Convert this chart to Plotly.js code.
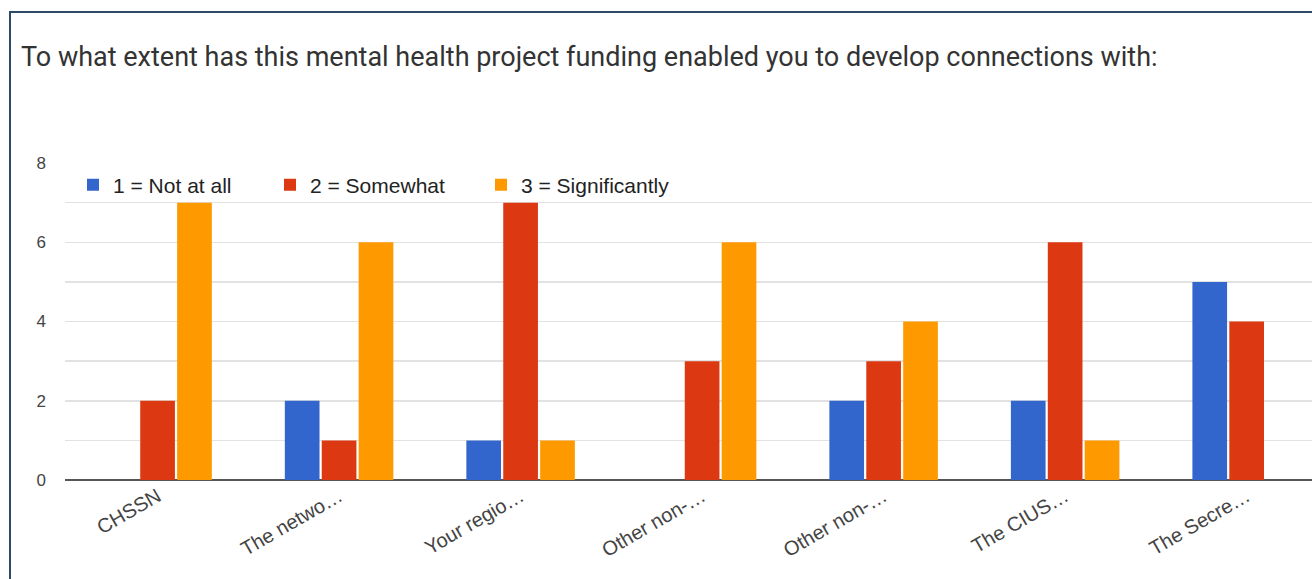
<!DOCTYPE html>
<html>
<head>
<meta charset="utf-8">
<script src="https://cdn.plot.ly/plotly-3.0.1.min.js"></script>
<style>
  html, body { margin: 0; padding: 0; background: #ffffff; }
  #wrap { position: relative; width: 1312px; height: 579px; overflow: hidden; }
  #chart { width: 1312px; height: 579px; }
  #frame { position: absolute; left: 9px; top: 11px; width: 1400px; height: 700px;
           border-left: 2px solid #2d4b68; border-top: 2px solid #2d4b68; pointer-events: none; }
</style>
</head>
<body>
<div id="wrap">
  <div id="chart"></div>
  <div id="frame"></div>
</div>
<script>
const titleText = "To what extent has this mental health project funding enabled you to develop connections with:";
const categories = ["CHSSN", "The netwo…", "Your regio…", "Other non-…", "Other non-…", "The CIUS…", "The Secre…"];
const seriesNames = ["1 = Not at all", "2 = Somewhat", "3 = Significantly"];
const notAtAll = [0, 2, 1, 0, 2, 2, 5];
const somewhat = [2, 1, 7, 3, 3, 6, 4];
const significantly = [7, 6, 1, 6, 4, 1, 0];
const yTicks = [0, 2, 4, 6, 8];

const colors = ["#3366cc", "#dc3912", "#ff9900"];
const legendIds = ["legend", "legend2", "legend3"];
const positions = categories.map((_, i) => i);
const seriesData = [notAtAll, somewhat, significantly];

const traces = seriesData.map((vals, k) => ({
  type: "bar",
  name: seriesNames[k],
  x: positions,
  y: vals,
  legend: legendIds[k],
  marker: { color: colors[k], line: { width: 0 } },
  hoverinfo: "x+y+name"
}));

const plotW = 1312 - 65;
const legendFont = { family: "Liberation Sans, Arial, sans-serif", size: 21, color: "#222222" };
function legendAt(px) {
  return {
    orientation: "h",
    x: (px - 65) / plotW, xanchor: "left",
    y: (480 - 185) / 317, yanchor: "middle",
    bgcolor: "rgba(255,255,255,0)",
    font: legendFont
  };
}

const layout = {
  width: 1312,
  height: 579,
  margin: { l: 65, r: 0, t: 163, b: 99, pad: 0 },
  paper_bgcolor: "#ffffff",
  plot_bgcolor: "#ffffff",
  title: {
    text: titleText,
    font: { family: "Roboto, Arial, sans-serif", size: 27, color: "#333333" },
    x: 21 / 1312, xref: "container", xanchor: "left",
    y: 1 - 57 / 579, yref: "container", yanchor: "middle"
  },
  barmode: "group",
  bargap: 0.39,
  bargroupgap: 0.06,
  xaxis: {
    range: [-0.51, 6.36],
    tickvals: positions,
    ticktext: categories,
    tickangle: -30,
    tickfont: { family: "Liberation Sans, Arial, sans-serif", size: 20, color: "#444444" },
    showgrid: false,
    zeroline: false,
    showline: false,
    ticks: ""
  },
  yaxis: {
    range: [0, 8],
    tickvals: yTicks,
    tickfont: { family: "Liberation Sans, Arial, sans-serif", size: 17, color: "#444444" },
    showgrid: true,
    gridcolor: "#e2e2e2",
    gridwidth: 1.5,
    minor: { dtick: 1, showgrid: true, gridcolor: "#e2e2e2", gridwidth: 1.5 },
    zeroline: true,
    zerolinecolor: "#555555",
    zerolinewidth: 1.5,
    ticks: "",
    ticklabelstandoff: 18,
    fixedrange: true
  },
  showlegend: true,
  legend: legendAt(73),
  legend2: legendAt(270),
  legend3: legendAt(481)
};

Plotly.newPlot("chart", traces, layout, { displayModeBar: false, staticPlot: true });
</script>
</body>
</html>
